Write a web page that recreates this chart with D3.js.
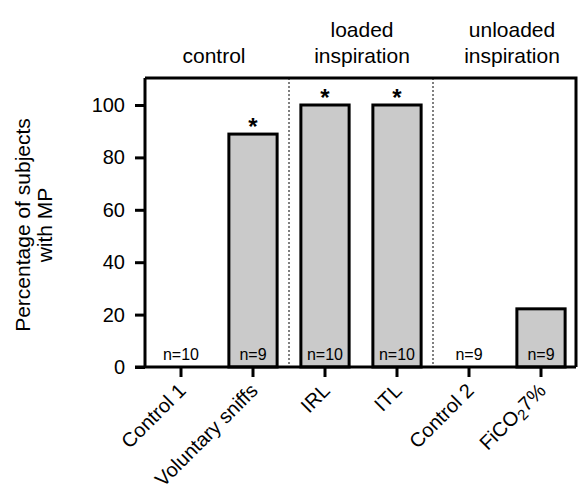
<!DOCTYPE html>
<html>
<head>
<meta charset="utf-8">
<script src="https://cdn.jsdelivr.net/npm/d3@7"></script>
<style>
  body { margin: 0; background: #fff; }
  svg text { font-family: Arial, "Liberation Sans", sans-serif; fill: #000; }
</style>
</head>
<body>
<div id="chart"></div>
<script>
// data
const conditions = ["Control 1", "Voluntary sniffs", "IRL", "ITL", "Control 2", "FiCO2 7%"];
const percentMP = [0, 88.9, 100, 100, 0, 22.2];
const nLabels = ["n=10", "n=9", "n=10", "n=10", "n=9", "n=9"];
const significant = [false, true, true, true, false, false];
const groupNames = [["control"], ["loaded", "inspiration"], ["unloaded", "inspiration"]];
const groupSpans = [[0, 1], [2, 3], [4, 5]];
const yTicks = [0, 20, 40, 60, 80, 100];

const width = 578, height = 489;
const plotL = 145, plotR = 576, plotT = 78, plotB = 367;
const titleShift = [-3, 1, 7];

const svg = d3.select("#chart").append("svg")
    .attr("width", width)
    .attr("height", height);

const x = d3.scaleBand()
    .domain(conditions)
    .range([plotL, plotL + 6 * 72])
    .paddingInner(0.33)
    .paddingOuter(0.165);

const y = d3.scaleLinear()
    .domain([0, 100])
    .range([plotB, 105]);

// group separators (dotted)
[2, 4].forEach(i => {
    const xs = plotL + i * 72;
    svg.append("line")
        .attr("x1", xs).attr("x2", xs)
        .attr("y1", plotT).attr("y2", plotB)
        .attr("stroke", "#000")
        .attr("stroke-width", 1)
        .attr("stroke-dasharray", "2,2");
});

// bars
svg.selectAll("rect.bar")
    .data(conditions)
    .join("rect")
    .attr("class", "bar")
    .attr("x", d => x(d))
    .attr("width", x.bandwidth())
    .attr("y", (d, i) => y(percentMP[i]))
    .attr("height", (d, i) => y(0) - y(percentMP[i]))
    .attr("fill", "#cacaca")
    .attr("stroke", "#000")
    .attr("stroke-width", 3)
    .style("display", (d, i) => percentMP[i] > 0 ? null : "none");

// n labels
svg.selectAll("text.nlab")
    .data(conditions)
    .join("text")
    .attr("class", "nlab")
    .attr("x", d => x(d) + x.bandwidth() / 2)
    .attr("y", 360)
    .attr("text-anchor", "middle")
    .style("font-size", "16px")
    .text((d, i) => nLabels[i]);

// stars
svg.selectAll("text.star")
    .data(conditions.filter((d, i) => significant[i]))
    .join("text")
    .attr("class", "star")
    .attr("x", d => x(d) + x.bandwidth() / 2)
    .attr("y", d => y(percentMP[conditions.indexOf(d)]) + 1)
    .attr("text-anchor", "middle")
    .style("font-size", "24px")
    .style("font-weight", "bold")
    .text("*");

// frame top and right
svg.append("path")
    .attr("d", `M${plotL},${plotT}H${plotR}V${plotB}`)
    .attr("fill", "none")
    .attr("stroke", "#000")
    .attr("stroke-width", 3);

// y axis
const yAxis = svg.append("g")
    .attr("transform", `translate(${plotL},0)`)
    .call(d3.axisLeft(y).tickValues(yTicks).tickSize(10).tickPadding(10).tickSizeOuter(0));
yAxis.select(".domain").attr("stroke-width", 3).attr("d", `M0,${plotT}V${plotB}`);
yAxis.selectAll(".tick line").attr("stroke-width", 3);
yAxis.selectAll(".tick text").style("font-size", "20px").attr("fill", "#000");

// x axis
const xAxis = svg.append("g")
    .attr("transform", `translate(0,${plotB})`)
    .call(d3.axisBottom(x).tickSize(10).tickSizeOuter(0).tickFormat(""));
xAxis.select(".domain").attr("stroke-width", 3).attr("d", `M${plotL - 10},0H${plotR}`);
xAxis.selectAll(".tick line").attr("stroke-width", 3);

// rotated x labels
const xl = svg.selectAll("text.xlab")
    .data(conditions)
    .join("text")
    .attr("class", "xlab")
    .attr("text-anchor", "end")
    .attr("transform", d => `translate(${x(d) + x.bandwidth() / 2 + 6},${plotB + 25}) rotate(-45)`)
    .style("font-size", "20px");
xl.each(function(d) {
    const t = d3.select(this);
    if (d === "FiCO2 7%") {
        t.append("tspan").text("FiCO");
        t.append("tspan").attr("baseline-shift", "-25%").style("font-size", "15px").text("2");
        t.append("tspan").text("7%");
    } else {
        t.text(d);
    }
});

// group titles
groupNames.forEach((lines, g) => {
    const [a, b] = groupSpans[g];
    const cx = (x(conditions[a]) + x(conditions[b]) + x.bandwidth()) / 2 + titleShift[g];
    lines.forEach((ln, k) => {
        svg.append("text")
            .attr("x", cx)
            .attr("y", 63 - (lines.length - 1 - k) * 26)
            .attr("text-anchor", "middle")
            .style("font-size", "21px")
            .text(ln);
    });
});

// y axis title
const yt = svg.append("text")
    .attr("text-anchor", "middle")
    .attr("transform", "translate(30,225) rotate(-90)")
    .style("font-size", "21px");
yt.append("tspan").attr("x", 0).attr("dy", 0).text("Percentage of subjects");
yt.append("tspan").attr("x", 0).attr("dy", 22).text("with MP");
</script>
</body>
</html>
